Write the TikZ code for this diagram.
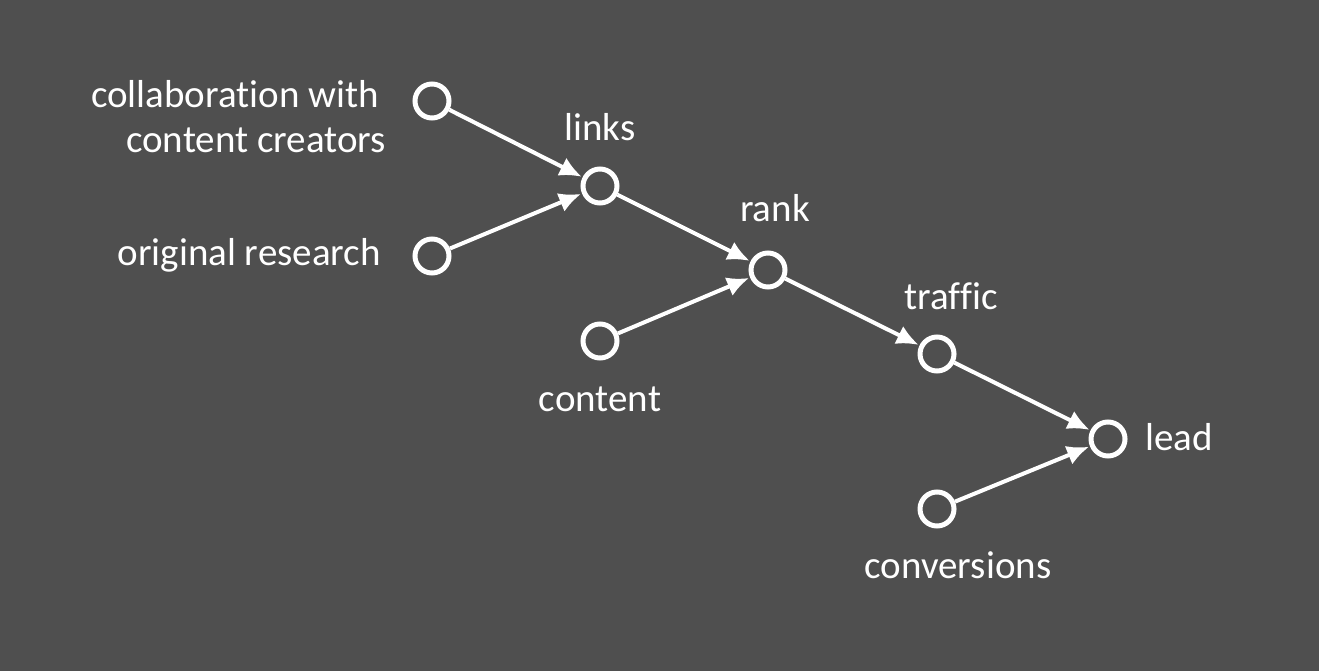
\documentclass[tikz,border=0pt]{standalone}
\usepackage{fontspec}
\setmainfont[Ligatures=NoCommon]{Carlito}
\usetikzlibrary{arrows.meta}
\definecolor{bg}{RGB}{79,79,79}
\begin{document}
\begin{tikzpicture}[x=1pt,y=-1pt,
  dot/.style={circle,draw=white,fill=bg,line width=5pt,minimum size=34pt,inner sep=0pt},
  lbl/.style={text=white,font=\fontsize{39}{45}\selectfont,inner sep=0pt},
  arr/.style={draw=white,line width=4pt,-{Latex[length=22pt,width=20pt]},shorten >=1pt}]
\fill[bg] (0,0) rectangle (1319,671);
\useasboundingbox (0,0) rectangle (1319,671);
\node[dot] (c1) at (432,101) {};
\node[dot] (links) at (600,186) {};
\node[dot] (orig) at (432,256) {};
\node[dot] (rank) at (768,270) {};
\node[dot] (content) at (600,341) {};
\node[dot] (traffic) at (937,354) {};
\node[dot] (lead) at (1108,439) {};
\node[dot] (conv) at (937,509) {};
\node[lbl,align=right,anchor=east] (tc1) at (386,117) {collaboration with\hspace*{7pt}\\content creators};
\node[lbl] (tlinks) at (600,127) {links};
\node[lbl,anchor=east] (torig) at (381,255) {original research};
\node[lbl] (trank) at (775,208) {rank};
\node[lbl] (tcontent) at (600,399) {content};
\node[lbl] (ttraffic) at (951,296) {traffic};
\node[lbl,anchor=west] (tlead) at (1145,437) {lead};
\node[lbl] (tconv) at (958,565) {conversions};
\draw[arr] (c1) -- (links);
\draw[arr] (orig) -- (links);
\draw[arr] (links) -- (rank);
\draw[arr] (content) -- (rank);
\draw[arr] (rank) -- (traffic);
\draw[arr] (traffic) -- (lead);
\draw[arr] (conv) -- (lead);
\end{tikzpicture}
\end{document}
